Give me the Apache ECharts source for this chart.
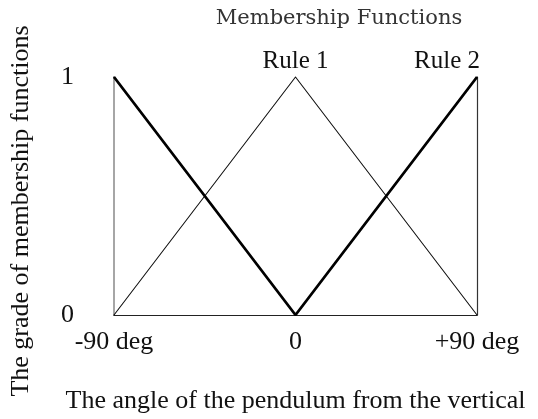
<!DOCTYPE html>
<html>
<head>
<meta charset="utf-8">
<script src="https://cdn.jsdelivr.net/npm/echarts@6/dist/echarts.min.js"></script>
<style>html,body{margin:0;padding:0;background:#fff}#c{width:538px;height:419px}</style>
</head>
<body>
<div id="c"></div>
<script>
var titleText = 'Membership Functions';
var xName = 'The angle of the pendulum from the vertical';
var yName = 'The grade of membership functions';
var xTicks = { '-90': '-90 deg', '0': '0', '90': '+90 deg' };
var rule1X = [-90, 0, 90];
var rule1Y = [0, 1, 0];
var rule2X = [-90, 0, 90];
var rule2Y = [1, 0, 1];
var rule1Name = 'Rule 1';
var rule2Name = 'Rule 2';

var font = 'Liberation Serif';
function pts(xs, ys, labelIdx, labelText, offset) {
  return xs.map(function (x, i) {
    var d = { value: [x, ys[i]] };
    if (i === labelIdx) {
      d.label = { show: true, formatter: labelText, position: 'top', distance: 3, offset: offset,
        fontFamily: font, fontSize: 25, color: '#111' };
    }
    return d;
  });
}
var chart = echarts.init(document.getElementById('c'));
chart.setOption({
  animation: false,
  backgroundColor: '#fff',
  title: { text: titleText, left: 334, top: 3, textAlign: 'center',
    textStyle: { fontFamily: 'DejaVu Serif', fontWeight: 'normal', fontSize: 21, color: '#333' } },
  grid: { left: 110, right: 61, top: 77, bottom: 101 },
  xAxis: {
    type: 'value', min: -90, max: 90, interval: 90,
    name: xName, nameLocation: 'middle', nameGap: 73,
    nameTextStyle: { fontFamily: font, fontSize: 26, color: '#111' },
    axisLine: { show: true, onZero: false, lineStyle: { color: '#222', width: 1.2 } },
    axisTick: { show: false }, splitLine: { show: false },
    axisLabel: { margin: 14, fontFamily: font, fontSize: 26, color: '#111',
      formatter: function (v) { return xTicks[String(v)]; } }
  },
  yAxis: [{
    type: 'value', min: 0, max: 1, interval: 1,
    name: yName, nameLocation: 'middle', nameGap: 80, nameRotate: 90,
    nameTextStyle: { fontFamily: font, fontSize: 26, color: '#111', padding: [0, 30, 0, 0] },
    axisLine: { show: true, onZero: false, lineStyle: { color: '#888', width: 1.5 } },
    axisTick: { show: false }, splitLine: { show: false },
    axisLabel: { margin: 40, fontFamily: font, fontSize: 26, color: '#111' }
  }, {
    type: 'value', min: 0, max: 1, interval: 1, position: 'right',
    axisLine: { show: true, onZero: false, lineStyle: { color: '#333', width: 1.2 } },
    axisTick: { show: false }, splitLine: { show: false }, axisLabel: { show: false }
  }],
  series: [{
    type: 'line', name: rule1Name, data: pts(rule1X, rule1Y, 1, rule1Name, [0, 0]),
    symbol: 'circle', symbolSize: 1, showSymbol: true, itemStyle: { color: '#111' },
    lineStyle: { color: '#111', width: 1.1 }, z: 3
  }, {
    type: 'line', name: rule2Name, data: pts(rule2X, rule2Y, 2, rule2Name, [-30, 0]),
    symbol: 'circle', symbolSize: 1, showSymbol: true, itemStyle: { color: '#000' },
    lineStyle: { color: '#000', width: 2.8 }, z: 4
  }]
});
</script>
</body>
</html>
